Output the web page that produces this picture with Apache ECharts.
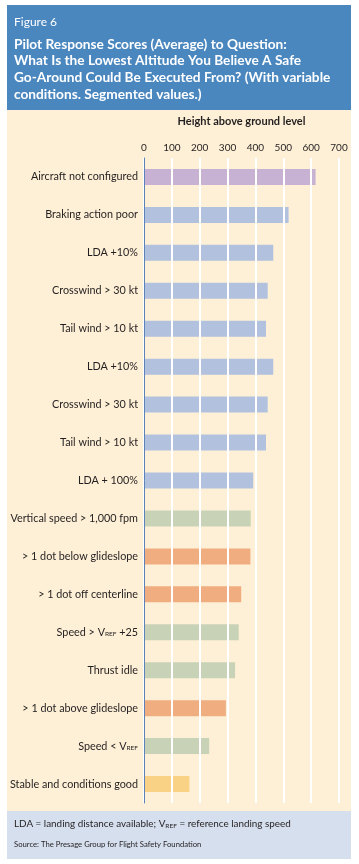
<!DOCTYPE html>
<html><head><meta charset="utf-8">
<script src="https://cdn.jsdelivr.net/npm/echarts@6/dist/echarts.min.js"></script>
<style>
html,body{margin:0;padding:0;background:#fff}
#wrap{position:relative;width:359px;height:864px}
.bg{position:absolute;left:7px;width:344px}
#c{position:absolute;left:0;top:0;width:359px;height:864px}
</style>
</head><body><div id="wrap">
<div class="bg" style="top:5px;height:105px;background:#4A87BF"></div>
<div class="bg" style="top:110px;height:701px;background:#FEF0D6"></div>
<div class="bg" style="top:811px;height:48px;background:#D5DFEE"></div>
<div id="c"></div></div>
<script>
const categories = [
  'Aircraft not configured','Braking action poor','LDA +10%','Crosswind > 30 kt','Tail wind > 10 kt',
  'LDA +10%','Crosswind > 30 kt','Tail wind > 10 kt','LDA + 100%','Vertical speed > 1,000 fpm',
  '> 1 dot below glideslope','> 1 dot off centerline','Speed > VREF +25','Thrust idle',
  '> 1 dot above glideslope','Speed < VREF','Stable and conditions good'
];
const values = [616, 519, 464, 444, 438, 464, 444, 438, 392, 383, 382, 349, 340, 327, 294, 234, 163];
const groups = ['config','runway','runway','runway','runway','runway','runway','runway','runway',
  'energy','path','path','energy','energy','path','energy','stable'];
const groupColors = {config:'#C8B2D3', runway:'#B1C1DE', energy:'#C8D2B6', path:'#EFAD80', stable:'#FAD285'};
const xTicks = {min:0, max:700, interval:100};
const gridTicks = [100, 200, 300, 400, 500, 600, 700];

const chart = echarts.init(document.getElementById('c'), null, {renderer:'canvas'});
const FONT = 'Lato';
function vref(s){ return s.replace('VREF','V{s|REF}'); }

chart.setOption({
  animation:false,
  backgroundColor:'transparent',
  textStyle:{fontFamily:FONT},
  graphic:[
    {type:'text', left:14, top:16, style:{text:'Figure 6', fill:'#fff', font:'12px '+FONT}},
    {type:'text', left:14, top:36, style:{text:'Pilot Response Scores (Average) to Question:\nWhat Is the Lowest Altitude You Believe A Safe\nGo-Around Could Be Executed From? (With variable\nconditions. Segmented values.)', fill:'#fff', font:'bold 13.7px '+FONT, lineHeight:16.6}},
    {type:'text', left:14, top:819, style:{
      text:'LDA = landing distance available; V{s|REF} = reference landing speed',
      fill:'#231F20', font:'9.9px '+FONT,
      rich:{s:{fontSize:6.5, fill:'#231F20', fontFamily:FONT, padding:[3,0,0,0]}}}},
    {type:'text', left:14, top:841, style:{text:'Source: The Presage Group for Flight Safety Foundation', fill:'#231F20', font:'7.7px '+FONT}}
  ],
  grid:{left:144, right:20, top:158, bottom:61, containLabel:false},
  xAxis:{type:'value', position:'top', min:xTicks.min, max:xTicks.max, interval:xTicks.interval, z:1,
    name:'Height above ground level', nameLocation:'middle', nameGap:31,
    nameTextStyle:{fontFamily:FONT, fontSize:11, fontWeight:'bold', color:'#231F20'},
    axisLine:{show:false}, axisTick:{show:false},
    axisLabel:{fontFamily:FONT, fontSize:10, color:'#231F20', margin:5},
    splitLine:{show:true, lineStyle:{color:'#FFFFFF', width:2}}},
  yAxis:{type:'category', inverse:true, data:categories, z:5,
    axisLine:{show:true, lineStyle:{color:'#5C82B8', width:1}}, axisTick:{show:false},
    axisLabel:{fontFamily:FONT, fontSize:10.8, color:'#231F20', margin:6,
      formatter:v=>vref(v), rich:{s:{fontSize:6.5, color:'#231F20', fontFamily:FONT, padding:[3,0,0,0]}}},
    splitLine:{show:false}},
  series:[
    {type:'line', z:1, silent:true, showSymbol:false, lineStyle:{opacity:0},
     data:categories.map(()=>null),
     markLine:{silent:true, symbol:['none','none'], label:{show:false}, animation:false,
       lineStyle:{color:'#FFFFFF', width:2, type:'solid'},
       data:gridTicks.map(t=>({xAxis:t}))}},
    {type:'bar', barWidth:16, z:3,
     data:values.map((v,i)=>({value:v, itemStyle:{color:groupColors[groups[i]]}}))}
  ]
});
</script></body></html>
